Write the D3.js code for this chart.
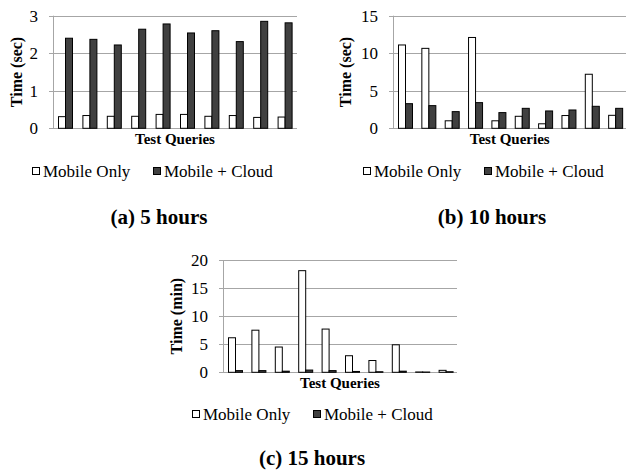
<!DOCTYPE html>
<html lang="en">
<head>
  <meta charset="UTF-8">
  <title>Mobile vs Mobile + Cloud query times</title>
  <style>
    body { margin: 0; background: #fff; }
    svg { display: block; }
  </style>
</head>
<body>
  <svg id="chart" width="626" height="471"></svg>
  <script src="https://d3js.org/d3.v7.min.js"></script>
  <script>
    const queries = ['Q1', 'Q2', 'Q3', 'Q4', 'Q5', 'Q6', 'Q7', 'Q8', 'Q9', 'Q10']
    const seriesNames = ['Mobile Only', 'Mobile + Cloud']

    // (a) 5 hours, seconds
    const mobileOnly5h = [0.31, 0.34, 0.32, 0.32, 0.37, 0.37, 0.32, 0.34, 0.29, 0.30]
    const mobileCloud5h = [2.40, 2.37, 2.22, 2.64, 2.78, 2.54, 2.60, 2.31, 2.85, 2.81]
    const ticks5h = [0, 1, 2, 3]

    // (b) 10 hours, seconds
    const mobileOnly10h = [11.1, 10.65, 1.0, 12.1, 1.0, 1.6, 0.6, 1.7, 7.2, 1.73]
    const mobileCloud10h = [3.28, 3.02, 2.22, 3.42, 2.09, 2.66, 2.31, 2.44, 2.93, 2.66]
    const ticks10h = [0, 5, 10, 15]

    // (c) 15 hours, minutes
    const mobileOnly15h = [6.15, 7.5, 4.5, 18.1, 7.7, 2.95, 2.1, 4.9, 0.06, 0.35]
    const mobileCloud15h = [0.3, 0.3, 0.2, 0.4, 0.3, 0.15, 0.1, 0.2, 0.05, 0.1]
    const ticks15h = [0, 5, 10, 15, 20]

    const svg = d3.select('#chart')
    const serif = 'Liberation Serif'
    const gridColor = '#a6a6a6'
    const fills = ['#ffffff', '#404040']

    // small helper so every label gets the serif face
    function label(sel, size, bold) {
      return sel.style('font-family', serif)
        .style('font-size', size + 'px')
        .style('font-weight', bold ? 'bold' : 'normal')
        .attr('fill', '#000')
    }

    function drawPanel(p) {
      const y = d3.scaleLinear()
        .domain([0, d3.max(p.ticks)])
        .range([p.bottom, p.top])

      const x0 = d3.scaleBand()
        .domain(queries)
        .range([p.left, p.right])

      const barW = 7
      const x1 = d3.scaleBand()
        .domain(seriesNames)
        .range([(x0.bandwidth() - 2 * barW) / 2, (x0.bandwidth() + 2 * barW) / 2])

      const g = svg.append('g')

      // gridlines + tick marks
      g.selectAll('.grid')
        .data(p.ticks)
        .enter()
        .append('line')
        .attr('x1', p.left - 4)
        .attr('x2', p.right)
        .attr('y1', d => Math.round(y(d)) + 0.5)
        .attr('y2', d => Math.round(y(d)) + 0.5)
        .attr('stroke', gridColor)
        .attr('stroke-width', 1)

      g.append('line')
        .attr('x1', Math.round(p.left) + 0.5)
        .attr('x2', Math.round(p.left) + 0.5)
        .attr('y1', y(d3.max(p.ticks)))
        .attr('y2', y(0))
        .attr('stroke', gridColor)

      g.selectAll('.tick-label')
        .data(p.ticks)
        .enter()
        .append('text')
        .attr('x', p.left - 15)
        .attr('y', d => y(d) + 6)
        .attr('text-anchor', 'end')
        .call(label, 17, false)
        .text(d => d)

      const rows = queries.map((q, i) => ({ q, values: [p.only[i], p.cloud[i]] }))

      const groups = g.selectAll('.group')
        .data(rows)
        .enter()
        .append('g')
        .attr('transform', d => `translate(${x0(d.q)},0)`)

      groups.selectAll('rect')
        .data(d => d.values.map((v, i) => ({ key: seriesNames[i], v, i })))
        .enter()
        .append('rect')
        .attr('x', d => Math.round(x1(d.key)) + 0.5)
        .attr('width', barW)
        .attr('y', d => y(d.v))
        .attr('height', d => y(0) - y(d.v))
        .attr('fill', d => fills[d.i])
        .attr('stroke', '#000')
        .attr('stroke-width', 1)

      g.append('text')
        .attr('x', (p.left + p.right) / 2)
        .attr('y', p.bottom + 16)
        .attr('text-anchor', 'middle')
        .call(label, 15, true)
        .text('Test Queries')

      g.append('text')
        .attr('transform', `translate(${p.yTitleX + 5},${(p.top + p.bottom) / 2}) rotate(-90)`)
        .attr('text-anchor', 'middle')
        .call(label, 16, true)
        .text(p.yTitle)

      const legend = g.append('g')
      const offsets = [0, 121]
      seriesNames.forEach((name, i) => {
        legend.append('rect')
          .attr('x', p.legendX + offsets[i] + 0.5)
          .attr('y', p.legendY - 9.5)
          .attr('width', 7)
          .attr('height', 7)
          .attr('fill', fills[i])
          .attr('stroke', '#000')
        legend.append('text')
          .attr('x', p.legendX + offsets[i] + 11)
          .attr('y', p.legendY)
          .call(label, 17, false)
          .text(name)
      })

      g.append('text')
        .attr('x', p.captionX)
        .attr('y', p.captionY)
        .attr('text-anchor', 'middle')
        .call(label, 21, true)
        .text(p.caption)
    }

    drawPanel({
      left: 53, right: 297, top: 15.7, bottom: 128.3,
      ticks: ticks5h, only: mobileOnly5h, cloud: mobileCloud5h,
      yTitle: 'Time (sec)', yTitleX: 17,
      legendX: 32, legendY: 177,
      caption: '(a) 5 hours', captionX: 159, captionY: 224
    })

    drawPanel({
      left: 393, right: 626.5, top: 15.7, bottom: 128.3,
      ticks: ticks10h, only: mobileOnly10h, cloud: mobileCloud10h,
      yTitle: 'Time (sec)', yTitleX: 346,
      legendX: 363, legendY: 177,
      caption: '(b) 10 hours', captionX: 492, captionY: 224
    })

    drawPanel({
      left: 223, right: 457, top: 260, bottom: 372.3,
      ticks: ticks15h, only: mobileOnly15h, cloud: mobileCloud15h,
      yTitle: 'Time (min)', yTitleX: 177,
      legendX: 192, legendY: 420,
      caption: '(c) 15 hours', captionX: 312, captionY: 465
    })
  </script>
</body>
</html>
